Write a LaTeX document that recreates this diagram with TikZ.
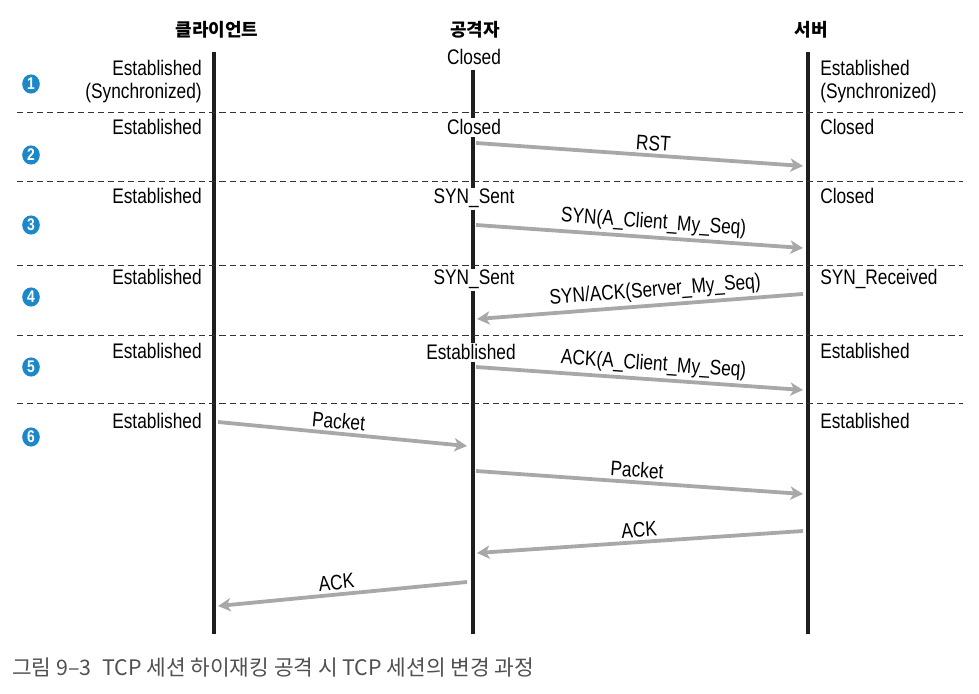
\documentclass[tikz,border=0pt]{standalone}
\usepackage{fontspec}
\setmainfont{Liberation Sans}[FakeStretch=0.82]
\newfontfamily\kr{Noto Sans CJK KR}
\usetikzlibrary{arrows.meta,shapes.geometric}
\definecolor{msggray}{RGB}{168,168,170}
\definecolor{stepblue}{RGB}{28,136,202}
\definecolor{capgray}{RGB}{80,80,80}
\definecolor{lifeblack}{RGB}{30,30,30}
\begin{document}
\begin{tikzpicture}[x=0.025cm, y=-0.025cm,
    life/.style={line width=3pt, draw=lifeblack},
    rowsep/.style={line width=0.6pt, draw=black!80, dash pattern=on 4.3pt off 2.9pt},
    msg/.style={line width=2.7pt, draw=msggray, -{Stealth[length=9pt,width=9.5pt,inset=2.5pt]}},
    msglbl/.style={sloped, above=2pt, inner sep=0pt, font=\fontsize{15}{17}\selectfont},
    state/.style={inner sep=0pt, font=\fontsize{15}{17}\selectfont},
    header/.style={font=\kr\bfseries\fontsize{12.8}{15}\selectfont},
    stepno/.style={ellipse, fill=stepblue, text=white, inner sep=0pt,
        minimum width=0.44cm, minimum height=0.48cm, font=\bfseries\fontsize{12}{13}\selectfont}]
    \useasboundingbox (0,0) rectangle (979,694);

    % actors
    \node[header] (client) at (217,30) {클라이언트};
    \node[header] (attacker) at (475,30) {공격자};
    \node[header] (server) at (811,30) {서버};

    % lifelines and row separators
    \draw[life] (214,52) -- (214,634);
    \draw[life] (473,70) -- (473,634);
    \draw[life] (808,52) -- (808,634);
    \foreach \y in {112,181,265,335,403}
        \draw[rowsep] (17,\y) -- (963,\y);

    % step numbers
    \foreach \n/\y in {1/84,2/155,3/225,4/297,5/367,6/437}
        \node[stepno] (step\n) at (31,\y) {\n};

    % client states
    \node[state, anchor=base east] (cs1) at (202,76) {Established};
    \node[state, anchor=base east] (cs1b) at (202,99) {(Synchronized)};
    \node[state, anchor=base east] (cs2) at (202,135) {Established};
    \node[state, anchor=base east] (cs3) at (202,204) {Established};
    \node[state, anchor=base east] (cs4) at (202,285) {Established};
    \node[state, anchor=base east] (cs5) at (202,359) {Established};
    \node[state, anchor=base east] (cs6) at (202,428) {Established};

    % attacker states
    \node[state, anchor=base, fill=white, inner sep=1pt] (as1) at (474,65) {Closed};
    \node[state, anchor=base, fill=white, inner sep=1pt] (as2) at (474,135) {Closed};
    \node[state, anchor=base, fill=white, inner sep=1pt] (as3) at (474,204) {SYN\_Sent};
    \node[state, anchor=base, fill=white, inner sep=1pt] (as4) at (474,285) {SYN\_Sent};
    \node[state, anchor=base, fill=white, inner sep=1pt] (as5) at (471,360) {Established};

    % server states
    \node[state, anchor=base west] (ss1) at (820,76) {Established};
    \node[state, anchor=base west] (ss1b) at (820,99) {(Synchronized)};
    \node[state, anchor=base west] (ss2) at (820,135) {Closed};
    \node[state, anchor=base west] (ss3) at (820,204) {Closed};
    \node[state, anchor=base west] (ss4) at (820,285) {SYN\_Received};
    \node[state, anchor=base west] (ss5) at (820,359) {Established};
    \node[state, anchor=base west] (ss6) at (820,428) {Established};

    % message end points
    \coordinate (rstA) at (476,143);   \coordinate (rstS) at (803,166);
    \coordinate (synA) at (476,225);   \coordinate (synS) at (803,248);
    \coordinate (saS) at (803,294);    \coordinate (saA) at (477,319);
    \coordinate (ackA) at (476,367);   \coordinate (ackS) at (803,390);
    \coordinate (pkC) at (218,422);    \coordinate (pkA) at (467,446);
    \coordinate (pk2A) at (476,471);   \coordinate (pk2S) at (803,494);
    \coordinate (ack2S) at (803,531);  \coordinate (ack2A) at (477,553);
    \coordinate (ack3A) at (467,582);  \coordinate (ack3C) at (218,606);

    % messages
    \draw[msg] (rstA) -- node[msglbl, pos=0.54] {RST} (rstS);
    \draw[msg] (synA) -- node[msglbl, pos=0.54] {SYN(A\_Client\_My\_Seq)} (synS);
    \draw[msg] (saS) -- node[msglbl, pos=0.45] {SYN/ACK(Server\_My\_Seq)} (saA);
    \draw[msg] (ackA) -- node[msglbl, pos=0.54] {ACK(A\_Client\_My\_Seq)} (ackS);
    \draw[msg] (pkC) -- node[msglbl, pos=0.48] {Packet} (pkA);
    \draw[msg] (pk2A) -- node[msglbl, pos=0.49] {Packet} (pk2S);
    \draw[msg] (ack2S) -- node[msglbl, pos=0.5] {ACK} (ack2A);
    \draw[msg] (ack3A) -- node[msglbl, pos=0.52] {ACK} (ack3C);

    % caption
    \node[anchor=west, text=capgray, inner sep=0pt, font=\kr\fontsize{15.2}{18}\selectfont] (caption) at (12,668)
        {그림 9–3\hspace{0.5em}TCP 세션 하이재킹 공격 시 TCP 세션의 변경 과정};
\end{tikzpicture}
\end{document}
